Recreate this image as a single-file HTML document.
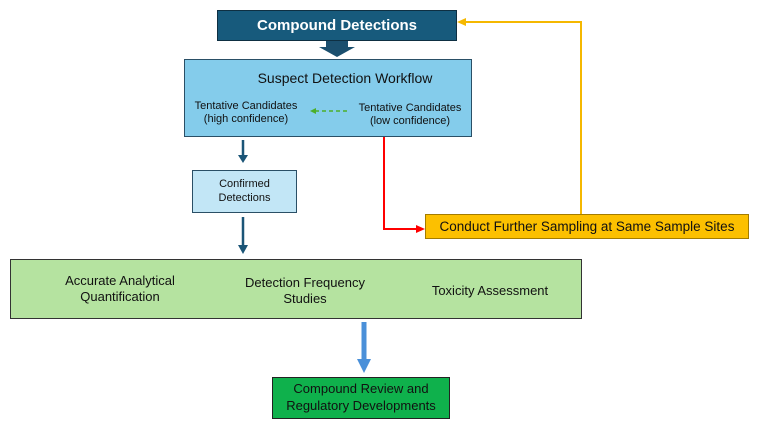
<!DOCTYPE html>
<html><head><meta charset="utf-8"><style>
body{margin:0;width:764px;height:423px;background:#fff;position:relative;overflow:hidden;font-family:"Liberation Sans",sans-serif}
.b{position:absolute;box-sizing:border-box;display:flex;align-items:center;justify-content:center;text-align:center;color:#111}
.t{position:absolute;text-align:center;color:#111;line-height:1.2}
</style></head><body>
<div class="b" style="left:217px;top:10px;width:240px;height:31px;background:#175a7c;border:1.5px solid #0e2f42;color:#fff;font-weight:bold;font-size:15px">Compound Detections</div>
<div class="b" style="left:184px;top:59px;width:288px;height:78px;background:#84cceb;border:1.5px solid #2a4f66"></div>
<div class="t" style="left:240px;top:70px;width:210px;font-size:14px">Suspect Detection Workflow</div>
<div class="t" style="left:188px;top:100px;width:116px;font-size:11px">Tentative Candidates<br>(high confidence)</div>
<div class="t" style="left:352px;top:102px;width:116px;font-size:11px">Tentative Candidates<br>(low confidence)</div>
<div class="b" style="left:192px;top:170px;width:105px;height:43px;background:#c2e6f6;border:1.5px solid #2a4f66;font-size:11px;line-height:1.25">Confirmed<br>Detections</div>
<div class="b" style="left:425px;top:214px;width:324px;height:25px;background:#fcc000;border:1px solid #a37c00;font-size:13.5px">Conduct Further Sampling at Same Sample Sites</div>
<div class="b" style="left:10px;top:259px;width:572px;height:60px;background:#b5e3a0;border:1.5px solid #333"></div>
<div class="t" style="left:40px;top:273px;width:160px;font-size:13px">Accurate Analytical<br>Quantification</div>
<div class="t" style="left:225px;top:275px;width:160px;font-size:13px">Detection Frequency<br>Studies</div>
<div class="t" style="left:410px;top:283px;width:160px;font-size:13px">Toxicity Assessment</div>
<div class="b" style="left:272px;top:377px;width:178px;height:42px;background:#0fb14c;border:1.5px solid #222;font-size:13px;line-height:1.3">Compound Review and<br>Regulatory Developments</div>
<svg width="764" height="423" style="position:absolute;left:0;top:0;z-index:5">
<polygon points="326,41 348,41 348,47 355,47 337,57 319,47 326,47" fill="#1b4f6e"/>
<line x1="243" y1="140" x2="243" y2="156" stroke="#1b5577" stroke-width="2.5"/>
<polygon points="238,155 248,155 243,163" fill="#1b5577"/>
<line x1="243" y1="217" x2="243" y2="246" stroke="#1b5577" stroke-width="2.5"/>
<polygon points="238,245 248,245 243,254" fill="#1b5577"/>
<line x1="364" y1="322" x2="364" y2="360" stroke="#4a90d9" stroke-width="5"/>
<polygon points="357,359 371,359 364,373" fill="#4a90d9"/>
<polyline points="384,137 384,229 418,229" fill="none" stroke="#f00" stroke-width="2"/>
<polygon points="416,225 425,229 416,233" fill="#f00"/>
<polyline points="581,214 581,22 464,22" fill="none" stroke="#f5b800" stroke-width="2"/>
<polygon points="466,18 457,22 466,26" fill="#f5b800"/>
<line x1="347" y1="111" x2="316" y2="111" stroke="#4caf2a" stroke-width="1.5" stroke-dasharray="4,3"/>
<polygon points="316,108 310,111 316,114" fill="#4caf2a"/>
</svg>
</body></html>
